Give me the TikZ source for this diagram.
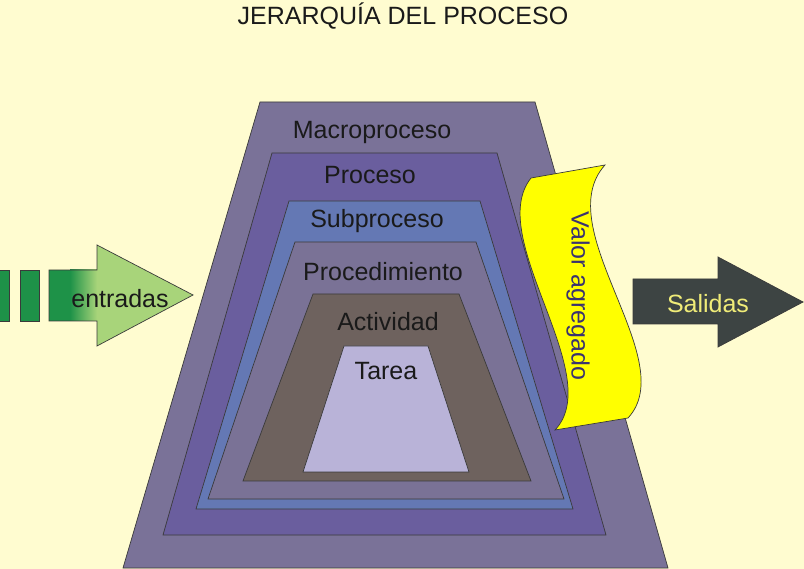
\documentclass[tikz,border=0pt]{standalone}
\usepackage{fontspec}
\setmainfont{Liberation Sans}
\definecolor{bgc}{HTML}{FFFCD0}
\definecolor{macroc}{HTML}{7A7298}
\definecolor{procc}{HTML}{6A5E9E}
\definecolor{subc}{HTML}{6478B4}
\definecolor{procedc}{HTML}{7A7296}
\definecolor{activc}{HTML}{6E625E}
\definecolor{tareac}{HTML}{B9B3D8}
\definecolor{bannerc}{HTML}{FFFF00}
\definecolor{bannertxt}{HTML}{3A3270}
\definecolor{salc}{HTML}{3D4443}
\definecolor{saltxt}{HTML}{F0EC78}
\definecolor{dgreen}{HTML}{1E9248}
\definecolor{lgreen}{HTML}{A8D47A}
\definecolor{edgec}{HTML}{3A3A3A}
\definecolor{txtc}{HTML}{1A1A1A}
\tikzset{
  layer/.style={draw=edgec, line width=0.7pt},
  lbl/.style={font=\fontsize{25}{30}\selectfont, text=txtc, inner sep=0pt},
}
\begin{document}
\begin{tikzpicture}[x=1pt,y=-1pt]
\useasboundingbox (0,0) rectangle (804,569);
\fill[bgc] (0,0) rectangle (804,569);
% title
\node[lbl] (title) at (403,16) {JERARQUÍA DEL PROCESO};
% nested trapezoids
\draw[layer, fill=macroc] (260,102) -- (535,102) -- (668,568) -- (123,568) -- cycle;
\draw[layer, fill=procc] (272,153) -- (497,153) -- (606,535) -- (163,535) -- cycle;
\draw[layer, fill=subc] (289,201) -- (480,201) -- (573,509) -- (196,509) -- cycle;
\draw[layer, fill=procedc] (295,242) -- (476,242) -- (564,499) -- (208,499) -- cycle;
\draw[layer, fill=activc] (313,294) -- (459,294) -- (531,481) -- (243,481) -- cycle;
\draw[layer, fill=tareac] (344,346) -- (428,346) -- (469,472) -- (303,472) -- cycle;
\node[lbl] (macro) at (372,132) {Macroproceso};
\node[lbl] (proc) at (370,175) {Proceso};
\node[lbl] (sub) at (377,221) {Subproceso};
\node[lbl] (proced) at (383,272) {Procedimiento};
\node[lbl] (activ) at (388,322) {Actividad};
\node[lbl] (tarea) at (386,371) {Tarea};
% valor agregado banner
\draw[layer, fill=bannerc] (531,178) -- (605,165)
  .. controls (548,228) and (682,360) .. (628,418)
  -- (555,430)
  .. controls (607,375) and (484,237) .. (531,178) -- cycle;
\node[lbl, text=bannertxt, rotate=-90] (valor) at (578,296) {Valor agregado};
% entradas arrow
\fill[lgreen] (49,270) -- (97,270) -- (97,245) -- (193,295) -- (97,346) -- (97,321) -- (49,321) -- cycle;
\fill[dgreen] (49,270) rectangle (70,321);
\shade[left color=dgreen, right color=lgreen] (70,270) rectangle (97,321);
\draw[layer] (49,270) -- (97,270) -- (97,245) -- (193,295) -- (97,346) -- (97,321) -- (49,321) -- cycle;
\draw[layer, fill=dgreen] (-2,270) rectangle (9,321);
\draw[layer, fill=dgreen] (20,270) rectangle (39,321);
\node[lbl] (entradas) at (120,299) {entradas};
% salidas arrow
\draw[layer, fill=salc] (633,279) -- (718,279) -- (718,257) -- (803,302) -- (718,347) -- (718,324) -- (633,324) -- cycle;
\node[lbl, text=saltxt] (salidas) at (708,304) {Salidas};
\end{tikzpicture}
\end{document}
